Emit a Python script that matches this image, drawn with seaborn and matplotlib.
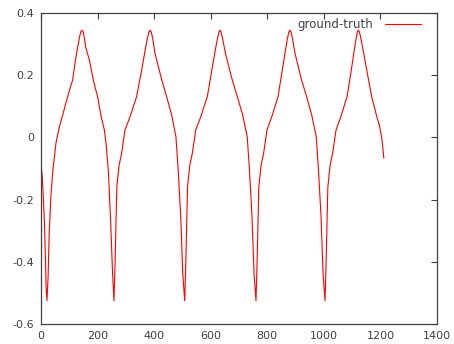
import matplotlib
matplotlib.use('Agg')
import matplotlib.pyplot as plt
import matplotlib.ticker as mticker
import seaborn as sns
import pandas as pd

# ground-truth signal
frame = [0, 4, 8, 12, 16, 18, 21, 25, 29, 35, 41, 53, 65, 76, 88, 100, 112, 122, 130, 136, 141, 145,
         149, 153, 158, 171, 186, 200, 212, 224, 230, 238, 246, 253,
         258, 262, 268, 276, 285, 297, 315, 338, 356, 370, 376, 381, 386, 390, 395, 403, 427, 444,
         462, 477, 485, 494, 501,
         508, 512, 518, 526, 535, 547, 565, 588, 604, 618, 624, 629, 633, 637, 642, 652, 676, 694,
         713, 729, 737, 746, 753,
         760, 764, 770, 778, 787, 799, 816, 838, 853, 866, 871, 876, 880, 884, 889, 898, 921, 939,
         957, 973, 981, 990, 997,
         1004, 1008, 1014, 1022, 1031, 1043, 1060, 1082, 1097, 1109, 1114, 1118, 1122, 1126, 1131,
         1145, 1157, 1169, 1187, 1196, 1204, 1208, 1212]
value = [-0.09, -0.12, -0.19, -0.27, -0.40, -0.48, -0.525, -0.45, -0.31, -0.19, -0.115, -0.018,
         0.034, 0.07, 0.11, 0.15, 0.185, 0.25, 0.292, 0.322, 0.340, 0.345,
         0.340, 0.322, 0.29, 0.249, 0.18, 0.131, 0.07, 0.024, -0.02, -0.105, -0.266, -0.436,
         -0.525, -0.40, -0.16, -0.09, -0.051, 0.024, 0.067, 0.131, 0.217, 0.29, 0.318, 0.338, 0.345,
         0.338, 0.318, 0.27, 0.185, 0.131, 0.072, 0.002, -0.105, -0.255, -0.436,
         -0.525, -0.40, -0.16, -0.09, -0.051, 0.024, 0.067, 0.131, 0.217, 0.29, 0.318, 0.338, 0.345,
         0.338, 0.318, 0.27, 0.185, 0.131, 0.072, 0.002, -0.105, -0.255, -0.436,
         -0.525, -0.40, -0.16, -0.09, -0.051, 0.024, 0.067, 0.131, 0.217, 0.29, 0.318, 0.338, 0.345,
         0.338, 0.318, 0.27, 0.185, 0.131, 0.072, 0.002, -0.105, -0.255, -0.436,
         -0.525, -0.40, -0.16, -0.09, -0.051, 0.024, 0.067, 0.131, 0.217, 0.29, 0.318, 0.338, 0.345,
         0.338, 0.318, 0.249, 0.19, 0.131, 0.067, 0.04, 0.002, -0.03, -0.067]

xticks = [0, 200, 400, 600, 800, 1000, 1200, 1400]
yticks = [-0.6, -0.4, -0.2, 0, 0.2, 0.4]

sns.set_style('white')
plt.rcParams['font.family'] = ['DejaVu Sans']
plt.rcParams['axes.unicode_minus'] = False

df = pd.DataFrame({'frame': frame, 'value': value})

fig = plt.figure(figsize=(4.54, 3.44), dpi=100)
ax = fig.add_axes([0.0903, 0.0581, 0.8723, 0.9041])
sns.lineplot(data=df, x='frame', y='value', color='#ff0000', linewidth=0.8,
             label='ground-truth', ax=ax)

ax.set_xlim(0, 1400)
ax.set_ylim(-0.6, 0.4)
ax.set_xticks(xticks)
ax.set_yticks(yticks)
ax.yaxis.set_major_formatter(mticker.FormatStrFormatter('%g'))
ax.set_xlabel('')
ax.set_ylabel('')
ax.tick_params(direction='in', length=4, width=0.8, color='#404040',
               top=True, right=True, labelsize=8, labelcolor='#404040', pad=5)
for s in ax.spines.values():
    s.set_color('#404040')
    s.set_linewidth(0.9)

ax.legend(loc='upper right', frameon=False, markerfirst=False, fontsize=8.5,
          handlelength=3.1, handletextpad=1.0, borderaxespad=0, borderpad=0,
          labelcolor='#404040', bbox_to_anchor=(0.96, 0.985))

fig.savefig('out.png', dpi=100)
